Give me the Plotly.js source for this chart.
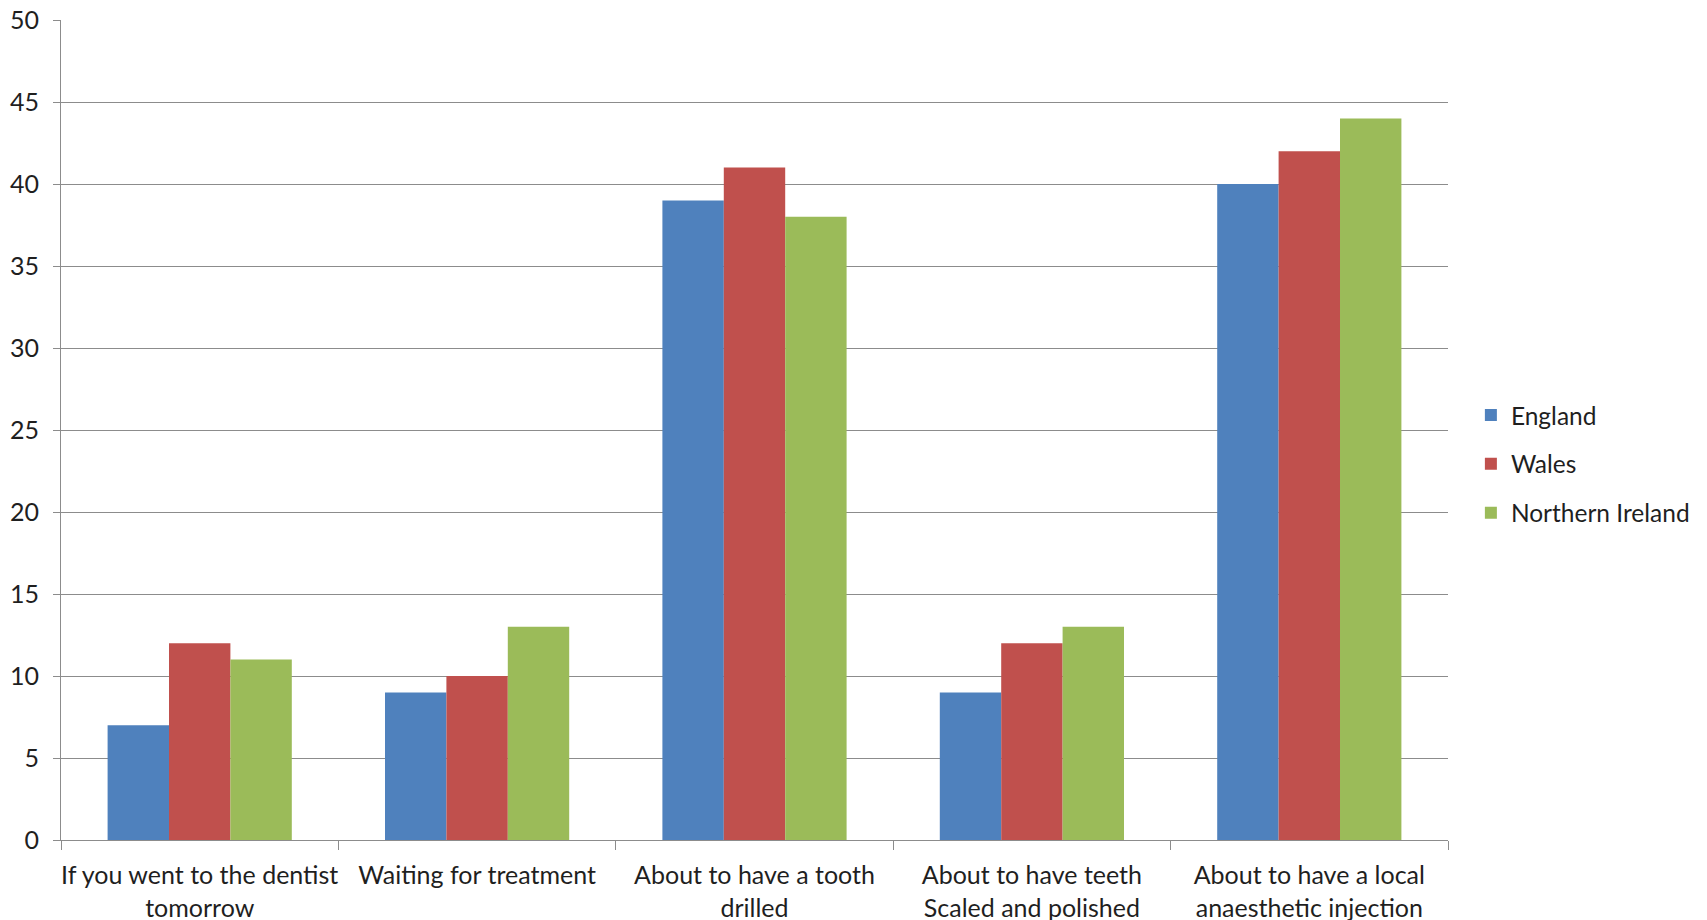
<!DOCTYPE html>
<html>
<head>
<meta charset="utf-8">
<script src="https://cdn.plot.ly/plotly-3.0.1.min.js"></script>
<style>
  html, body { margin: 0; padding: 0; background: #ffffff; }
  #chart { width: 1707px; height: 920px; }
</style>
</head>
<body>
<div id="chart"></div>
<script>
// Situations asked about, one group of bars each
const categories = [
  "If you went to the dentist<br>tomorrow",
  "Waiting for treatment",
  "About to have a tooth<br>drilled",
  "About to have teeth<br>Scaled and polished",
  "About to have a local<br>anaesthetic injection"
];

// Values per nation
const england = [7, 9, 39, 9, 40];
const wales = [12, 10, 41, 12, 42];
const northernIreland = [11, 13, 38, 13, 44];

const seriesNames = ["England", "Wales", "Northern Ireland"];
const seriesColors = ["#4F81BD", "#C0504D", "#9BBB59"];
const seriesValues = [england, wales, northernIreland];

const yTicks = [0, 5, 10, 15, 20, 25, 30, 35, 40, 45, 50];

const FONT = "Lato, 'Open Sans', sans-serif";
const TEXT = "#1f1f1f";
const SIZE = 25;

const traces = seriesNames.map((name, i) => ({
  type: "bar",
  name: name,
  x: categories,
  y: seriesValues[i],
  legendgroup: "g" + i,
  marker: { color: seriesColors[i], line: { width: 0 } },
  hoverinfo: "x+y+name"
}));

const layout = {
  width: 1707,
  height: 920,
  paper_bgcolor: "#ffffff",
  plot_bgcolor: "#ffffff",
  margin: { l: 61, r: 259, t: 20, b: 80, pad: 0 },
  barmode: "group",
  bargap: 0.336,
  bargroupgap: 0,
  font: { family: FONT, size: SIZE, color: TEXT },
  showlegend: true,
  legend: {
    x: 1.0165,
    xanchor: "left",
    y: 0.4585,
    yanchor: "middle",
    font: { family: FONT, size: 24.5, color: TEXT },
    tracegroupgap: 14,
    itemwidth: 30,
    borderwidth: 0,
    bgcolor: "rgba(0,0,0,0)"
  },
  xaxis: {
    type: "category",
    showgrid: false,
    showline: true,
    linecolor: "#8c8c8c",
    linewidth: 1,
    ticks: "outside",
    tickson: "boundaries",
    ticklen: 9,
    tickcolor: "#8c8c8c",
    tickwidth: 1,
    tickangle: 0,
    automargin: false,
    ticklabelstandoff: 13,
    tickfont: { family: FONT, size: SIZE, color: TEXT },
    zeroline: false
  },
  yaxis: {
    range: [0, 50],
    tickmode: "array",
    tickvals: yTicks,
    ticktext: yTicks.map(String),
    showgrid: true,
    gridcolor: "#8c8c8c",
    gridwidth: 1,
    showline: true,
    linecolor: "#8c8c8c",
    linewidth: 1,
    ticks: "outside",
    ticklen: 7,
    tickcolor: "#8c8c8c",
    automargin: false,
    ticklabelstandoff: 9,
    tickfont: { family: FONT, size: SIZE, color: TEXT },
    zeroline: false
  }
};

Plotly.newPlot("chart", traces, layout, { displayModeBar: false, staticPlot: true });
</script>
</body>
</html>
